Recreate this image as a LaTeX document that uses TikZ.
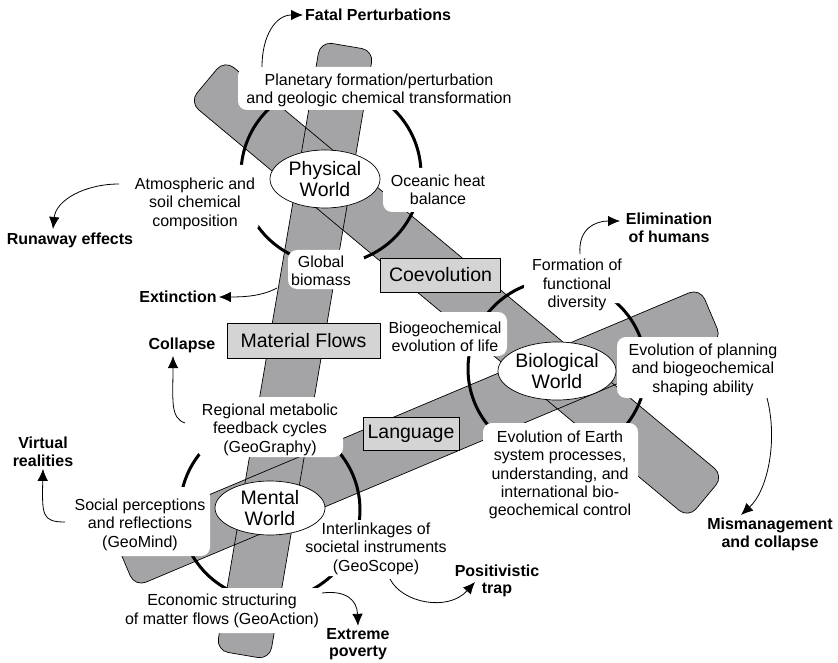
\documentclass[tikz,border=0pt]{standalone}
\usepackage{fontspec}
\setmainfont{Liberation Sans}
\usetikzlibrary{arrows.meta,shapes.geometric}
\definecolor{bandgray}{RGB}{164,164,166}
\definecolor{boxgray}{RGB}{212,212,212}
\begin{document}
\begin{tikzpicture}[x=1pt,y=-1pt,
  bandfill/.style={fill=bandgray, rounded corners=12pt},
  bandline/.style={draw=black, line width=0.7pt, rounded corners=12pt},
  ring/.style={draw=black, line width=3pt},
  wbox/.style={fill=white, rounded corners=9pt},
  lbl/.style={align=center, font=\fontsize{16}{18.4}\selectfont, inner sep=0pt},
  outc/.style={align=center, font=\fontsize{16}{17.6}\selectfont\bfseries, inner sep=2pt},
  tagbox/.style={draw=black, line width=0.7pt, fill=boxgray, font=\fontsize{19.5}{21}\selectfont, inner sep=0pt},
  world/.style={ellipse, draw=black, line width=0.7pt, fill=white, inner sep=0pt, align=center, font=\fontsize{19.5}{21.5}\selectfont},
  conn/.style={line width=0.8pt, -{Latex[length=12pt,width=10.5pt]}}
]
\useasboundingbox (0,0) rectangle (838,663);
\fill[white] (0,0) rectangle (838,663);

% band fills
\path[bandfill] (269.6,659.5) -- (216.4,650.5) -- (320.4,41.5) -- (373.6,50.5) -- cycle;
\path[bandfill] (189.4,102.1) -- (224.6,59.9) -- (723.6,475.9) -- (688.4,518.1) -- cycle;
\path[bandfill] (134.9,586.8) -- (113.1,535.2) -- (700.1,288.2) -- (721.9,339.8) -- cycle;
% band outlines
\path[bandline] (269.6,659.5) -- (216.4,650.5) -- (320.4,41.5) -- (373.6,50.5) -- cycle;
\path[bandline] (189.4,102.1) -- (224.6,59.9) -- (723.6,475.9) -- (688.4,518.1) -- cycle;
\path[bandline] (134.9,586.8) -- (113.1,535.2) -- (700.1,288.2) -- (721.9,339.8) -- cycle;

% rings
\draw[ring] (331,174) circle [radius=90];
\draw[ring] (557,369) circle [radius=89];
\draw[ring] (270,510) circle [radius=90];

% white label backgrounds
\path[wbox] (238,67) rectangle (522,110);
\path[wbox] (121,165) rectangle (259,232);
\path[wbox] (383,168) rectangle (495,212);
\path[wbox] (288,250) rectangle (364,289);
\path[wbox] (524,254) rectangle (630,303);
\path[wbox] (383,312) rectangle (507,356);
\path[wbox] (617,337) rectangle (788,398);
\path[wbox] (483,423) rectangle (638,526);
\path[wbox] (197,397) rectangle (343,457);
\path[wbox] (64,487) rectangle (210,556);
\path[wbox] (300,520) rectangle (455,576);
\path[wbox] (118,588) rectangle (328,633);

% tag boxes
\node[tagbox, minimum width=120pt, minimum height=34pt] (coev) at (440.5,275) {Coevolution};
\node[tagbox, minimum width=153pt, minimum height=35pt] (matfl) at (303.5,340.5) {Material Flows};
\node[tagbox, minimum width=96pt, minimum height=33pt] (lang) at (411,433.5) {Language};

% worlds
\node[world, minimum width=110pt, minimum height=58pt] (phys) at (325,179) {Physical\\World};
\node[world, minimum width=112pt, minimum height=58pt] (bio) at (557,371) {Biological\\World};
\node[world, minimum width=110pt, minimum height=54pt] (ment) at (270,508) {Mental\\World};

% labels
\node[lbl] (plan) at (379,90.5) {Planetary formation/perturbation\\and geologic chemical transformation};
\node[lbl] (atmo) at (195,203.5) {Atmospheric and\\soil chemical\\composition};
\node[lbl] (ocean) at (438,189.5) {Oceanic heat\\balance};
\node[lbl] (glob) at (321,271) {Global\\biomass};
\node[lbl] (form) at (577,285) {Formation of\\functional\\diversity};
\node[lbl] (biogeo) at (445,337) {Biogeochemical\\evolution of life};
\node[lbl] (planning) at (703,369.5) {Evolution of planning\\and biogeochemical\\shaping ability};
\node[lbl] (earth) at (560,475) {Evolution of Earth\\system processes,\\understanding, and\\international bio-\\geochemical control};
\node[lbl] (regio) at (270,429.5) {Regional metabolic\\feedback cycles\\(GeoGraphy)};
\node[lbl] (social) at (140,524.5) {Social perceptions\\and reflections\\(GeoMind)};
\node[lbl] (inter) at (376,548.5) {Interlinkages of\\societal instruments\\(GeoScope)};
\node[lbl] (econ) at (222,611) {Economic structuring\\of matter flows (GeoAction)};

% outcomes
\node[outc, anchor=west] (fatal) at (303,15) {Fatal Perturbations};
\node[outc] (runaway) at (70,240) {Runaway effects};
\node[outc] (extinct) at (178,297) {Extinction};
\node[outc] (collapse) at (182,345) {Collapse};
\node[outc] (virtual) at (43,452) {Virtual\\realities};
\node[outc] (elim) at (669,227.5) {Elimination\\of humans};
\node[outc] (mism) at (770,534.5) {Mismanagement\\and collapse};
\node[outc] (posit) at (497,581) {Positivistic\\trap};
\node[outc] (extreme) at (358,644) {Extreme\\poverty};

% connector end points
\coordinate (fatalS) at (262,67);
\coordinate (runS) at (119,184);
\coordinate (runE) at (53,229);
\coordinate (extS) at (277,288);
\coordinate (colS) at (185,423);
\coordinate (colE) at (173,356);
\coordinate (virS) at (65,522);
\coordinate (elimS) at (580,254);
\coordinate (elimE) at (620,221);
\coordinate (mismS) at (767,398);
\coordinate (mismE) at (741,515);
\coordinate (posS) at (390,579);
\coordinate (posE) at (475,582);
\coordinate (extrS) at (322,593);

% connectors
\draw[conn] (fatalS) .. controls (262,35) and (276,15) .. (fatal.west);
\draw[conn] (runS) .. controls (85,184) and (56,200) .. (runE);
\draw[conn] (extS) .. controls (262,296) and (245,297) .. (extinct.east);
\draw[conn] (colS) .. controls (170,418) and (173,400) .. (colE);
\draw[conn] (virS) .. controls (42,522) and (42,515) .. (virtual.south);
\draw[conn] (elimS) .. controls (578,228) and (596,221) .. (elimE);
\draw[conn] (mismS) .. controls (778,440) and (768,490) .. (mismE);
\draw[conn] (posS) .. controls (402,603) and (448,612) .. (posE);
\draw[conn] (extrS) .. controls (346,590) and (357,600) .. (extreme.north);
\end{tikzpicture}
\end{document}
